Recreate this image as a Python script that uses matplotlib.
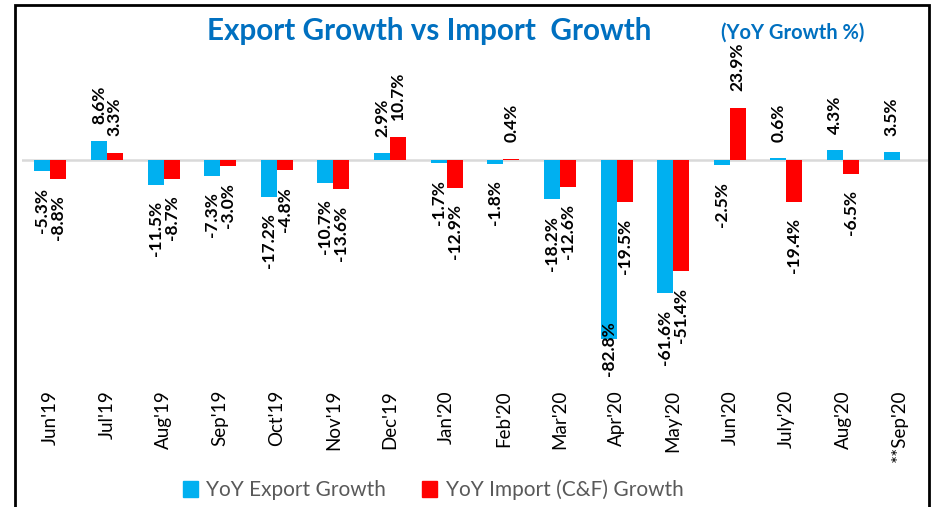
import numpy as np
import matplotlib
matplotlib.use("Agg")
import matplotlib.pyplot as plt
import matplotlib.patches as mpatches

plt.rcParams["font.family"] = ["Lato", "DejaVu Sans"]

# ── Data ──────────────────────────────────────────────────────────────────────
months = ["Jun'19", "Jul'19", "Aug'19", "Sep'19", "Oct'19", "Nov'19", "Dec'19",
          "Jan'20", "Feb'20", "Mar'20", "Apr'20", "May'20", "Jun'20", "July'20",
          "Aug'20", "**Sep'20"]
export_growth = [-5.3, 8.6, -11.5, -7.3, -17.2, -10.7, 2.9, -1.7, -1.8, -18.2,
                 -82.8, -61.6, -2.5, 0.6, 4.3, 3.5]
import_growth = [-8.8, 3.3, -8.7, -3.0, -4.8, -13.6, 10.7, -12.9, 0.4, -12.6,
                 -19.5, -51.4, 23.9, -19.4, -6.5, np.nan]

EXPORT_COLOR = "#00B0F0"
IMPORT_COLOR = "#FF0000"
TITLE_COLOR = "#0070C0"

W, H, DPI = 937, 507, 100
fig = plt.figure(figsize=(W / DPI, H / DPI), dpi=DPI)
ax = fig.add_axes([22 / W, 1 - 376 / H, 906 / W, 346 / H])

x = np.arange(len(months))
bw = 0.283
ax.bar(x - bw / 2, export_growth, bw, color=EXPORT_COLOR, zorder=2)
ax.bar(x + bw / 2, import_growth, bw, color=IMPORT_COLOR, zorder=2)

ax.set_xlim(-0.5, len(months) - 0.5)
ax.set_ylim(-100, 60)
ax.axhline(0, color="#D9D9D9", lw=1.8, zorder=1)
for s in ax.spines.values():
    s.set_visible(False)
ax.set_yticks([])
ax.set_xticks(x)
ax.set_xticklabels(months, rotation=90, fontsize=13.5, color="black")
ax.tick_params(axis="x", length=0, pad=10)

# value labels
labels = []
for xs, vals in ((x - bw / 2, export_growth), (x + bw / 2, import_growth)):
    for xi, v in zip(xs, vals):
        if np.isnan(v):
            continue
        t = ax.annotate(f"{v:.1f}%", xy=(xi, v),
                        xytext=(0, 12 if v >= 0 else -12), textcoords="offset points",
                        rotation=90, ha="center", va="bottom" if v >= 0 else "top",
                        fontsize=12.5, fontweight="bold", color="black", zorder=3)
        labels.append(t)

# keep labels inside the plot area (like Excel does)
fig.canvas.draw()
r = fig.canvas.get_renderer()
ax_bb = ax.get_window_extent(r)
for t in labels:
    bb = t.get_window_extent(r)
    if bb.y0 < ax_bb.y0:
        dx, dy = t.xyann
        t.xyann = (dx, dy + (ax_bb.y0 - bb.y0) * 72 / DPI)

# titles
fig.text(429 / W, 1 - 31 / H, "Export Growth vs Import  Growth", ha="center",
         va="center", fontsize=21.3, fontweight="bold", color=TITLE_COLOR)
fig.text(793 / W, 1 - 33 / H, "(YoY Growth %)", ha="center", va="center",
         fontsize=14.5, fontweight="bold", color=TITLE_COLOR)

# legend
handles = [mpatches.Patch(color=EXPORT_COLOR, label="YoY Export Growth"),
           mpatches.Patch(color=IMPORT_COLOR, label="YoY Import (C&F) Growth")]
fig.legend(handles=handles, loc="center", bbox_to_anchor=(433 / W, 1 - 490 / H),
           ncol=2, frameon=False, fontsize=15, labelcolor="#595959",
           handlelength=0.75, handleheight=0.75, handletextpad=0.4, columnspacing=1.7)

# outer frame
fig.patches.append(mpatches.Rectangle((15 / W, -0.02), 914 / W, 1.02 - 5 / H,
                                      transform=fig.transFigure, fill=False,
                                      edgecolor="black", lw=2))

fig.savefig("out.png", dpi=DPI)
